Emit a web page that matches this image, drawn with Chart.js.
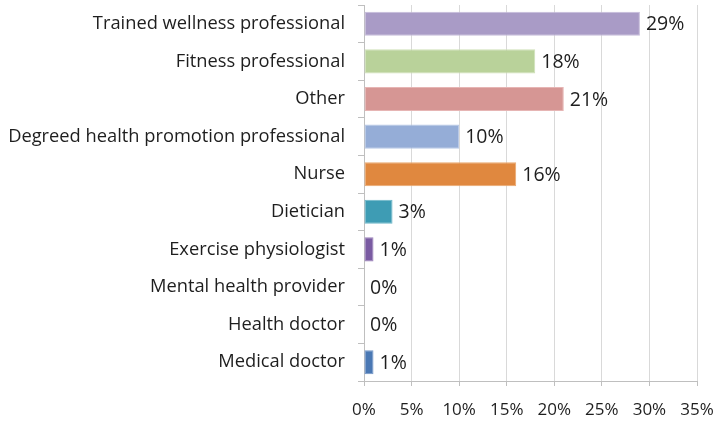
<!DOCTYPE html>
<html lang="en">

<head>
    <meta charset="UTF-8">
    <title>Wellness Staff Roles</title>
    <script src="https://cdn.jsdelivr.net/npm/chart.js"></script>
    <style>
        html, body { margin: 0; padding: 0; background: #fff; }
        .chart-box { width: 714px; height: 423px; }
    </style>
</head>

<body>
    <div class="chart-box">
        <canvas id="rolesChart"></canvas>
    </div>

    <script>
        // Roles listed top to bottom, share of respondents in percent
        const roles = [
            "Trained wellness professional",
            "Fitness professional",
            "Other",
            "Degreed health promotion professional",
            "Nurse",
            "Dietician",
            "Exercise physiologist",
            "Mental health provider",
            "Health doctor",
            "Medical doctor"
        ];
        const shares = [29, 18, 21, 10, 16, 3, 1, 0, 0, 1];
        const barColors = ["#A99BC6", "#B9D29A", "#D69694", "#95ADD7", "#E0883F", "#3E9CB4", "#7A5BA2", "#5A8AC4", "#4F81BD", "#4A78B4"];
        const barEdges = ["#C6BCDA", "#CFE1B9", "#E6B5B4", "#B6C8E6", "#EAA86F", "#6CB6C8", "#9A80BA", "#85A8D4", "#7FA3D1", "#7497C8"];
        const xTicks = [0, 5, 10, 15, 20, 25, 30, 35];

        const fontFamily = "'Open Sans', sans-serif";
        const textColor = "#1e1e1e";

        // Writes the percentage just past the end of each bar
        const valueLabels = {
            id: "valueLabels",
            afterDatasetsDraw(chart) {
                const ctx = chart.ctx;
                const meta = chart.getDatasetMeta(0);
                ctx.save();
                ctx.font = "19.5px " + fontFamily;
                ctx.fillStyle = textColor;
                ctx.textAlign = "left";
                ctx.textBaseline = "middle";
                meta.data.forEach((bar, i) => {
                    ctx.fillText(shares[i] + "%", bar.x + 6, bar.y + 1);
                });
                ctx.restore();
            }
        };

        new Chart(document.getElementById("rolesChart"), {
            type: "bar",
            data: {
                labels: roles,
                datasets: [{
                    data: shares,
                    backgroundColor: barColors,
                    borderColor: barEdges,
                    borderWidth: 1,
                    borderSkipped: false,
                    barPercentage: 1,
                    categoryPercentage: 0.64
                }]
            },
            options: {
                indexAxis: "y",
                responsive: true,
                maintainAspectRatio: false,
                animation: false,
                layout: { padding: { top: 5, right: 17, left: 0, bottom: 0 } },
                plugins: {
                    legend: { display: false },
                    tooltip: { enabled: false }
                },
                scales: {
                    x: {
                        min: 0,
                        max: 35,
                        afterBuildTicks: (scale) => {
                            scale.ticks = xTicks.map(v => ({ value: v }));
                        },
                        afterFit: (scale) => {
                            scale.height = 42;
                            scale.paddingLeft = 0;
                            scale.paddingRight = 0;
                        },
                        grid: {
                            color: "#d9d9d9",
                            tickColor: "#bfbfbf",
                            tickLength: 5,
                            lineWidth: 1
                        },
                        border: { color: "#bfbfbf" },
                        ticks: {
                            padding: 14,
                            color: textColor,
                            font: { family: fontFamily, size: 17 },
                            callback: (v) => v + "%"
                        }
                    },
                    y: {
                        offset: true,
                        afterFit: (scale) => {
                            scale.width = 364;
                            scale.paddingTop = 0;
                            scale.paddingBottom = 0;
                        },
                        grid: {
                            drawOnChartArea: false,
                            offset: true,
                            tickColor: "#bfbfbf",
                            tickLength: 6
                        },
                        border: { color: "#bfbfbf" },
                        ticks: {
                            padding: 13,
                            color: textColor,
                            font: { family: fontFamily, size: 18.3 }
                        }
                    }
                }
            },
            plugins: [valueLabels]
        });
    </script>
</body>

</html>
